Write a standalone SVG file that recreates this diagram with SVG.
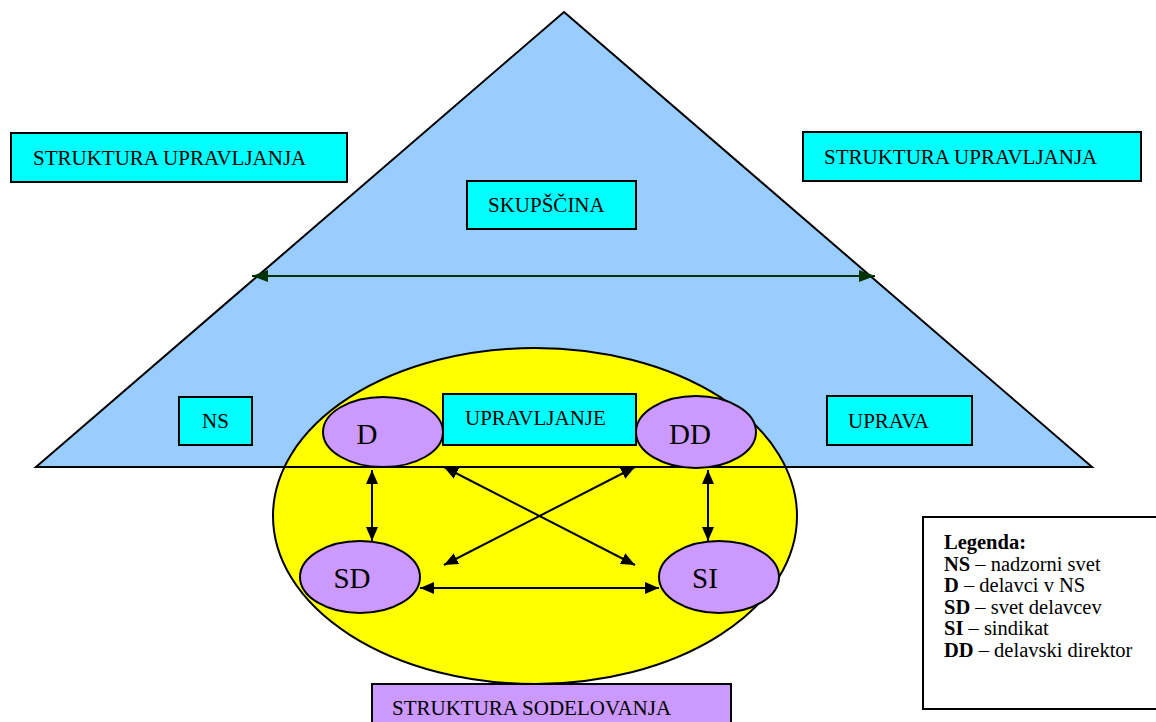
<svg xmlns="http://www.w3.org/2000/svg" width="1156" height="722" viewBox="0 0 1156 722" font-family="'Liberation Serif', serif">
<style>
.box{fill:#00FFFF;stroke:#000;stroke-width:2}
.oval{fill:#CC99FF;stroke:#000;stroke-width:2}
.lbl{font-size:21px;fill:#000}
.big{font-size:29px;fill:#000;text-anchor:middle}
.leg{font-size:20.5px;fill:#000}
.conn{stroke:#000;stroke-width:2;fill:none;marker-start:url(#ah);marker-end:url(#ah)}
.gconn{stroke:#003300;stroke-width:2;fill:none;marker-start:url(#ahg);marker-end:url(#ahg)}
</style>
<defs>
<marker id="ah" viewBox="0 0 14 12" refX="14" refY="6" markerWidth="14" markerHeight="12" markerUnits="userSpaceOnUse" orient="auto-start-reverse"><path d="M0,0 L14,6 L0,12 Z" fill="#000"/></marker>
<marker id="ahg" viewBox="0 0 16 12" refX="16" refY="6" markerWidth="16" markerHeight="12" markerUnits="userSpaceOnUse" orient="auto-start-reverse"><path d="M0,0 L16,6 L0,12 Z" fill="#003300"/></marker>
</defs>
<rect width="1156" height="722" fill="#fff"/>
<g id="triangle"><polygon points="564,12 1092,467 36,467" fill="#99CCFF" stroke="#000" stroke-width="2"/></g>
<g id="struktura-upravljanja-left"><rect class="box" x="11" y="133" width="336" height="49"/><text class="lbl" font-family="Liberation Serif" x="33" y="165">STRUKTURA UPRAVLJANJA</text></g>
<g id="struktura-upravljanja-right"><rect class="box" x="803" y="132" width="338" height="49"/><text class="lbl" font-family="Liberation Serif" x="824" y="164">STRUKTURA UPRAVLJANJA</text></g>
<g id="skupscina"><rect class="box" x="467" y="181" width="169" height="48"/><text class="lbl" font-family="Liberation Serif" x="488" y="212">SKUPŠČINA</text></g>
<g id="ns"><rect class="box" x="179" y="397" width="73" height="48"/><text class="lbl" font-family="Liberation Serif" x="215.5" y="428" text-anchor="middle">NS</text></g>
<g id="uprava"><rect class="box" x="827" y="396" width="145" height="49"/><text class="lbl" font-family="Liberation Serif" x="848" y="428">UPRAVA</text></g>
<g id="sodelovanje"><ellipse cx="535" cy="516" rx="262" ry="168" fill="#FFFF00" stroke="#000" stroke-width="2"/></g>
<g id="baseline"><line x1="36" y1="467" x2="1092" y2="467" stroke="#000" stroke-width="2"/></g>
<g id="d"><ellipse class="oval" cx="383" cy="432" rx="60" ry="35"/><text class="big" font-family="Liberation Serif" x="367" y="444">D</text></g>
<g id="upravljanje"><rect class="box" x="443" y="394" width="193" height="51"/><text class="lbl" font-family="Liberation Serif" x="465" y="425">UPRAVLJANJE</text></g>
<g id="dd"><ellipse class="oval" cx="696" cy="432" rx="60" ry="36"/><text class="big" font-family="Liberation Serif" x="690" y="444">DD</text></g>
<g id="sd"><ellipse class="oval" cx="360" cy="577" rx="60" ry="36"/><text class="big" font-family="Liberation Serif" x="352" y="588">SD</text></g>
<g id="si"><ellipse class="oval" cx="719" cy="577" rx="60" ry="36"/><text class="big" font-family="Liberation Serif" x="705" y="588">SI</text></g>
<g id="connectors">
<line class="gconn" x1="252" y1="276" x2="875" y2="276"/>
<line class="conn" x1="372" y1="470" x2="372" y2="541"/>
<line class="conn" x1="708" y1="470" x2="708" y2="541"/>
<line class="conn" x1="420" y1="588" x2="659" y2="588"/>
<line class="conn" x1="444" y1="467" x2="635" y2="565"/>
<line class="conn" x1="635" y1="467" x2="444" y2="565"/>
</g>
<g id="struktura-sodelovanja"><rect x="372" y="684" width="359" height="50" fill="#CC99FF" stroke="#000" stroke-width="2"/><text class="lbl" font-family="Liberation Serif" x="392" y="715">STRUKTURA SODELOVANJA</text></g>
<g id="legenda" font-family="Liberation Serif"><rect x="923" y="517" width="250" height="192" fill="#fff" stroke="#000" stroke-width="2"/>
<text class="leg" x="944" y="549" font-weight="bold">Legenda:</text>
<text class="leg" x="944" y="571"><tspan font-weight="bold">NS</tspan> – nadzorni svet</text>
<text class="leg" x="944" y="592"><tspan font-weight="bold">D</tspan> – delavci v NS</text>
<text class="leg" x="944" y="614"><tspan font-weight="bold">SD</tspan> – svet delavcev</text>
<text class="leg" x="944" y="635"><tspan font-weight="bold">SI</tspan> – sindikat</text>
<text class="leg" x="944" y="657"><tspan font-weight="bold">DD</tspan> – delavski direktor</text>
</g>
</svg>
